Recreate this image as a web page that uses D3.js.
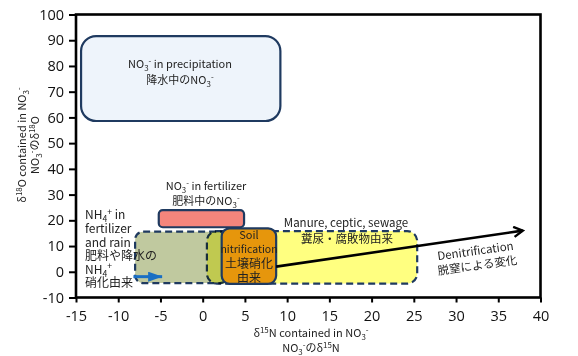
<!DOCTYPE html>
<html><head><meta charset="utf-8">
<script src="https://cdn.jsdelivr.net/npm/d3@7"></script>
<style>
html,body{margin:0;padding:0;background:#fff;}
svg{display:block;}
text{font-family:"Noto Sans CJK JP","Noto Sans",sans-serif;fill:#222;}
.tick text{font-family:"Open Sans",sans-serif;fill:#111;}
</style></head>
<body>
<svg id="chart" width="578" height="356"></svg>
<script>
// ---- data ----
const xTicks = [-15,-10,-5,0,5,10,15,20,25,30,35,40];
const yTicks = [-10,0,10,20,30,40,50,60,70,80,90,100];
const regionNames = ["precipitation","fertilizerNO3","fertilizerNH4","manure","soil"];
const regionX0 = [-14.4, -5.2, -8.0, 0.5, 2.25];
const regionX1 = [9.2, 4.9, 3.0, 25.4, 8.7];
const regionY0 = [58.6, 17.3, -4.4, -4.6, -4.7];
const regionY1 = [91.6, 24.0, 15.6, 15.8, 16.9];
const denitFrom = [8.7, 2.0];
const denitTo = [37.9, 16.0];
const blueFrom = [-8.2, -1.9];
const blueTo = [-4.8, -1.9];

// ---- styles ----
const NAVY = "#1f3a60";
const styles = {
  precipitation:{fill:"#eef4fb", dash:null, r:15},
  fertilizerNO3:{fill:"#f4857c", dash:null, r:4},
  fertilizerNH4:{fill:"#c0c99f", dash:"7,4", r:8},
  manure:{fill:"#ffff80", dash:"7,4", r:10, blend:"multiply"},
  soil:{fill:"#e6960c", dash:null, r:8}
};

const svg = d3.select("#chart");
const x = d3.scaleLinear().domain([-15,40]).range([76,540.5]);
const y = d3.scaleLinear().domain([-10,100]).range([297.5,14.5]);

// regions
regionNames.forEach((n,i)=>{
  const s = styles[n];
  const rx = svg.append("rect")
    .attr("x", x(regionX0[i])).attr("y", y(regionY1[i]))
    .attr("width", x(regionX1[i]) - x(regionX0[i]))
    .attr("height", y(regionY0[i]) - y(regionY1[i]))
    .attr("rx", s.r).attr("ry", s.r)
    .attr("fill", s.fill).attr("stroke", NAVY).attr("stroke-width", 2.2);
  if (s.dash) rx.attr("stroke-dasharray", s.dash);
  if (s.blend) rx.style("mix-blend-mode", s.blend);
});

// markers
const defs = svg.append("defs");
defs.append("marker").attr("id","chev").attr("viewBox","0 0 12 12")
  .attr("refX",10).attr("refY",6).attr("markerWidth",12).attr("markerHeight",12)
  .attr("markerUnits","userSpaceOnUse").attr("orient","auto")
  .append("path").attr("d","M1,1 L10,6 L1,11").attr("fill","none")
  .attr("stroke","#000").attr("stroke-width",2.4).attr("stroke-linejoin","miter");
defs.append("marker").attr("id","tri").attr("viewBox","0 0 14 10")
  .attr("refX",14).attr("refY",5).attr("markerWidth",14).attr("markerHeight",10)
  .attr("markerUnits","userSpaceOnUse").attr("orient","auto")
  .append("path").attr("d","M0,0 L14,5 L0,10 Z").attr("fill","#1a6fc4");

// denitrification arrow
svg.append("line")
  .attr("x1", x(denitFrom[0])).attr("y1", y(denitFrom[1]))
  .attr("x2", x(denitTo[0])).attr("y2", y(denitTo[1]))
  .attr("stroke","#000").attr("stroke-width",2.6).attr("marker-end","url(#chev)");
// blue arrow
svg.append("line")
  .attr("x1", x(blueFrom[0])).attr("y1", y(blueFrom[1]))
  .attr("x2", x(blueTo[0])).attr("y2", y(blueTo[1]))
  .attr("stroke","#1a6fc4").attr("stroke-width",3).attr("marker-end","url(#tri)");

// rich text helper: _{sub} ^{sup}
function rich(sel, str, fs){
  const re = /([_^])\{([^}]*)\}|([^_^]+)/g;
  let m, shift = 0;
  while((m = re.exec(str))){
    let target = 0, size = fs, txt;
    if (m[1]) { txt = m[2]; size = fs*0.72; target = m[1]==="_" ? fs*0.28 : -fs*0.36; }
    else txt = m[3];
    sel.append("tspan").attr("dy", target - shift).attr("font-size", size).text(txt);
    shift = target;
  }
}
function label(px, py, str, fs, anchor, parent){
  const t = (parent||svg).append("text").attr("x",px).attr("y",py)
    .attr("font-size",fs).attr("text-anchor",anchor||"middle");
  rich(t, str, fs);
  return t;
}

// region labels
label(180, 68, "NO_{3}^{-} in precipitation", 11);
label(180, 84, "降水中のNO_{3}^{-}", 11);
label(206, 190, "NO_{3}^{-} in fertilizer", 11);
label(206, 205, "肥料中のNO_{3}^{-}", 11);
[["NH_{4}^{+} in",219],["fertilizer",233],["and rain",246.5],["肥料や降水の",260],["NH_{4}^{+}",273.5],["硝化由来",287]]
  .forEach(d=>label(85, d[1], d[0], 12, "start"));
label(249, 239, "Soil", 11);
label(249, 252.5, "nitrification", 10.5);
label(249, 267.5, "土壌硝化", 12);
label(249, 281.5, "由来", 12);
label(346, 227, "Manure, ceptic, sewage", 11.5);
label(347, 243, "糞尿・腐敗物由来", 11.5);
const g = svg.append("g").attr("transform","translate(476,255) rotate(-8)");
label(0, 0, "Denitrification", 11.5, "middle", g);
label(0, 14.5, "脱窒による変化", 11.5, "middle", g);

// axes
const fmt = d => String(d);
const xAxis = svg.append("g").attr("transform",`translate(0,${y(-10)})`)
  .call(d3.axisBottom(x).tickValues(xTicks).tickFormat(fmt).tickSize(5).tickSizeOuter(0).tickPadding(8));
const yAxis = svg.append("g").attr("transform",`translate(${x(-15)},0)`)
  .call(d3.axisLeft(y).tickValues(yTicks).tickFormat(fmt).tickSize(7).tickSizeOuter(0).tickPadding(5));
[xAxis,yAxis].forEach(a=>{
  a.selectAll(".domain").remove();
  a.selectAll(".tick line").attr("stroke","#000").attr("stroke-width",2);
  a.selectAll(".tick text").attr("font-size",14.5).attr("fill","#111");
});
xAxis.selectAll(".tick text").attr("dy","0.71em");
// frame
svg.append("rect").attr("x",x(-15)).attr("y",y(100))
  .attr("width",x(40)-x(-15)).attr("height",y(-10)-y(100))
  .attr("fill","none").attr("stroke","#000").attr("stroke-width",2.6);

// axis titles
label(311, 337, "δ^{15}N contained in NO_{3}^{-}", 11);
label(311, 352, "NO_{3}^{-}のδ^{15}N", 11);
const yl1 = svg.append("g").attr("transform","translate(26,145) rotate(-90)");
label(0,0,"δ^{18}O contained in NO_{3}^{-}", 11, "middle", yl1);
const yl2 = svg.append("g").attr("transform","translate(39,145) rotate(-90)");
label(0,0,"NO_{3}^{-}のδ^{18}O", 11, "middle", yl2);
</script>
</body></html>
